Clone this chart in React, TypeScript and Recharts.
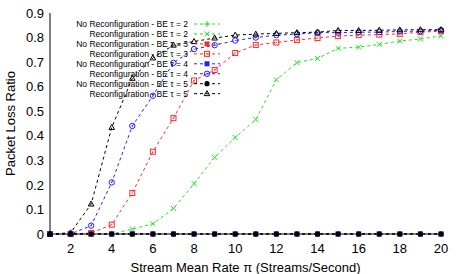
import { Line, LineChart, XAxis, YAxis } from "recharts";

// stream mean rate (x) and loss ratios
const rates = [1, 2, 3, 4, 5, 6, 7, 8, 9, 10, 11, 12, 13, 14, 15, 16, 17, 18, 19, 20];

const noReconfig2 = [0, 0, 0, 0, 0, 0, 0, 0, 0, 0, 0, 0, 0, 0, 0, 0, 0, 0, 0, 0];
const reconfig2 = [
  0, 0, 0, 0, 0.02, 0.042, 0.104, 0.205, 0.312, 0.393, 0.466, 0.628, 0.698, 0.715, 0.756,
  0.761, 0.772, 0.786, 0.794, 0.807,
];
const noReconfig3 = [0, 0, 0, 0, 0, 0, 0, 0, 0, 0, 0, 0, 0, 0, 0, 0, 0, 0, 0, 0];
const reconfig3 = [
  0, 0, 0.004, 0.038, 0.167, 0.335, 0.472, 0.625, 0.668, 0.737, 0.77, 0.78, 0.79, 0.798, 0.806,
  0.81, 0.812, 0.815, 0.822, 0.826,
];
const noReconfig4 = [0, 0, 0, 0, 0, 0, 0, 0, 0, 0, 0, 0, 0, 0, 0, 0, 0, 0, 0, 0];
const reconfig4 = [
  0, 0, 0.034, 0.21, 0.44, 0.563, 0.697, 0.753, 0.769, 0.788, 0.8, 0.81, 0.814, 0.82, 0.82,
  0.822, 0.822, 0.825, 0.826, 0.83,
];
const noReconfig5 = [0, 0, 0, 0, 0, 0, 0, 0, 0, 0, 0, 0, 0, 0, 0, 0, 0, 0, 0, 0];
const reconfig5 = [
  0, 0.005, 0.122, 0.434, 0.634, 0.717, 0.769, 0.784, 0.798, 0.81, 0.814, 0.817, 0.82, 0.822,
  0.829, 0.829, 0.83, 0.831, 0.832, 0.832,
];

const xTicks = [2, 4, 6, 8, 10, 12, 14, 16, 18, 20];
const yTicks = [0, 0.1, 0.2, 0.3, 0.4, 0.5, 0.6, 0.7, 0.8, 0.9];

type Shape = "plus" | "cross" | "square" | "openSquare" | "circle" | "openCircle" | "triangle";

const series: { key: string; label: string; color: string; shape: Shape; values: number[] }[] = [
  { key: "nr2", label: "No Reconfiguration - BE τ = 2", color: "#22e022", shape: "plus", values: noReconfig2 },
  { key: "r2", label: "Reconfiguration - BE τ = 2", color: "#22e022", shape: "cross", values: reconfig2 },
  { key: "nr3", label: "No Reconfiguration - BE τ = 3", color: "#ff2a2a", shape: "square", values: noReconfig3 },
  { key: "r3", label: "Reconfiguration - BE τ = 3", color: "#ff2a2a", shape: "openSquare", values: reconfig3 },
  { key: "nr4", label: "No Reconfiguration - BE τ = 4", color: "#1f1fff", shape: "square", values: noReconfig4 },
  { key: "r4", label: "Reconfiguration - BE τ = 4", color: "#1f1fff", shape: "openCircle", values: reconfig4 },
  { key: "nr5", label: "No Reconfiguration - BE τ = 5", color: "#000000", shape: "circle", values: noReconfig5 },
  { key: "r5", label: "Reconfiguration - BE τ = 5", color: "#000000", shape: "triangle", values: reconfig5 },
];

const data = rates.map((rate, i) => {
  const row: Record<string, number> = { rate };
  series.forEach((s) => {
    row[s.key] = s.values[i];
  });
  return row;
});

function Marker({ cx, cy, shape, color }: { cx: number; cy: number; shape: Shape; color: string }) {
  switch (shape) {
    case "plus":
      return (
        <g stroke={color} strokeWidth={1}>
          <line x1={cx - 3} x2={cx + 3} y1={cy} y2={cy} />
          <line x1={cx} x2={cx} y1={cy - 3} y2={cy + 3} />
        </g>
      );
    case "cross":
      return (
        <g stroke={color} strokeWidth={1}>
          <line x1={cx - 2.5} x2={cx + 2.5} y1={cy - 2.5} y2={cy + 2.5} />
          <line x1={cx - 2.5} x2={cx + 2.5} y1={cy + 2.5} y2={cy - 2.5} />
        </g>
      );
    case "square":
      return <rect x={cx - 2.5} y={cy - 2.5} width={5} height={5} fill={color} />;
    case "openSquare":
      return (
        <g>
          <rect x={cx - 2.5} y={cy - 2.5} width={5} height={5} fill="none" stroke={color} strokeWidth={1} />
          <rect x={cx - 0.5} y={cy - 0.5} width={1} height={1} fill={color} />
        </g>
      );
    case "circle":
      return <circle cx={cx} cy={cy} r={2.6} fill={color} />;
    case "openCircle":
      return (
        <g>
          <circle cx={cx} cy={cy} r={2.7} fill="none" stroke={color} strokeWidth={1} />
          <circle cx={cx} cy={cy} r={0.6} fill={color} />
        </g>
      );
    default:
      return (
        <path
          d={`M${cx},${cy - 3}L${cx + 2.8},${cy + 2}L${cx - 2.8},${cy + 2}Z`}
          fill="none"
          stroke={color}
          strokeWidth={1}
        />
      );
  }
}

const tickStyle = { fill: "#000", fontSize: 13 };

export default function App() {
  return (
    <div
      style={{
        position: "absolute",
        left: 0,
        top: 0,
        width: 457,
        height: 274,
        background: "#fff",
        fontFamily: "'Liberation Sans', Arial, sans-serif",
      }}
    >
      <LineChart width={457} height={274} data={data} margin={{ top: 13, right: 16, bottom: 0, left: 0 }}>
        <XAxis
          xAxisId="main"
          dataKey="rate"
          type="number"
          domain={[1, 20]}
          ticks={xTicks}
          tickLine={false}
          tickSize={0}
          tickMargin={10}
          height={40}
          axisLine={{ stroke: "#000" }}
          tick={tickStyle}
          label={{
            value: "Stream Mean Rate π (Streams/Second)",
            position: "insideBottom",
            offset: 2,
            style: { fill: "#000", fontSize: 13 },
          }}
        />
        <XAxis
          xAxisId="bottomTicks"
          type="number"
          domain={[1, 20]}
          ticks={xTicks}
          mirror
          height={0}
          tick={false}
          tickSize={5}
          axisLine={false}
          tickLine={{ stroke: "#000" }}
        />
        <XAxis
          xAxisId="top"
          orientation="top"
          type="number"
          domain={[1, 20]}
          ticks={xTicks}
          mirror
          height={0}
          tick={false}
          tickSize={5}
          axisLine={{ stroke: "#000" }}
          tickLine={{ stroke: "#000" }}
        />
        <YAxis
          yAxisId="main"
          type="number"
          domain={[0, 0.9]}
          ticks={yTicks}
          width={50}
          tickLine={false}
          tickSize={0}
          tickMargin={6}
          axisLine={{ stroke: "#000" }}
          tick={tickStyle}
          label={{
            value: "Packet Loss Ratio",
            angle: -90,
            position: "insideLeft",
            offset: 10,
            style: { fill: "#000", fontSize: 13, textAnchor: "middle" },
          }}
        />
        <YAxis
          yAxisId="leftTicks"
          type="number"
          domain={[0, 0.9]}
          ticks={yTicks}
          mirror
          width={0}
          tick={false}
          tickSize={5}
          axisLine={false}
          tickLine={{ stroke: "#000" }}
        />
        <YAxis
          yAxisId="right"
          orientation="right"
          type="number"
          domain={[0, 0.9]}
          ticks={yTicks}
          mirror
          width={0}
          tick={false}
          tickSize={6}
          axisLine={{ stroke: "#888", strokeWidth: 2 }}
          tickLine={{ stroke: "#888" }}
        />
        {series.map((s) => (
          <Line
            key={s.key}
            xAxisId="main"
            yAxisId="main"
            dataKey={s.key}
            stroke={s.color}
            strokeWidth={1}
            strokeDasharray="3 3"
            type="linear"
            isAnimationActive={false}
            dot={(p: any) => (
              <Marker key={`${s.key}-${p.index}`} cx={p.cx} cy={p.cy} shape={s.shape} color={s.color} />
            )}
            activeDot={false}
          />
        ))}
      </LineChart>
      <svg
        width={457}
        height={274}
        style={{ position: "absolute", left: 0, top: 0, pointerEvents: "none" }}
      >
        {series.map((s, i) => {
          const y = 24 + i * 9.95;
          return (
            <g key={s.key}>
              <text x={188} y={y} dy="0.35em" textAnchor="end" fontSize={8.5} fill="#000">
                {s.label}
              </text>
              <line x1={194} x2={220} y1={y} y2={y} stroke={s.color} strokeWidth={1} strokeDasharray="3 3" />
              <Marker cx={207} cy={y} shape={s.shape} color={s.color} />
            </g>
          );
        })}
      </svg>
    </div>
  );
}
